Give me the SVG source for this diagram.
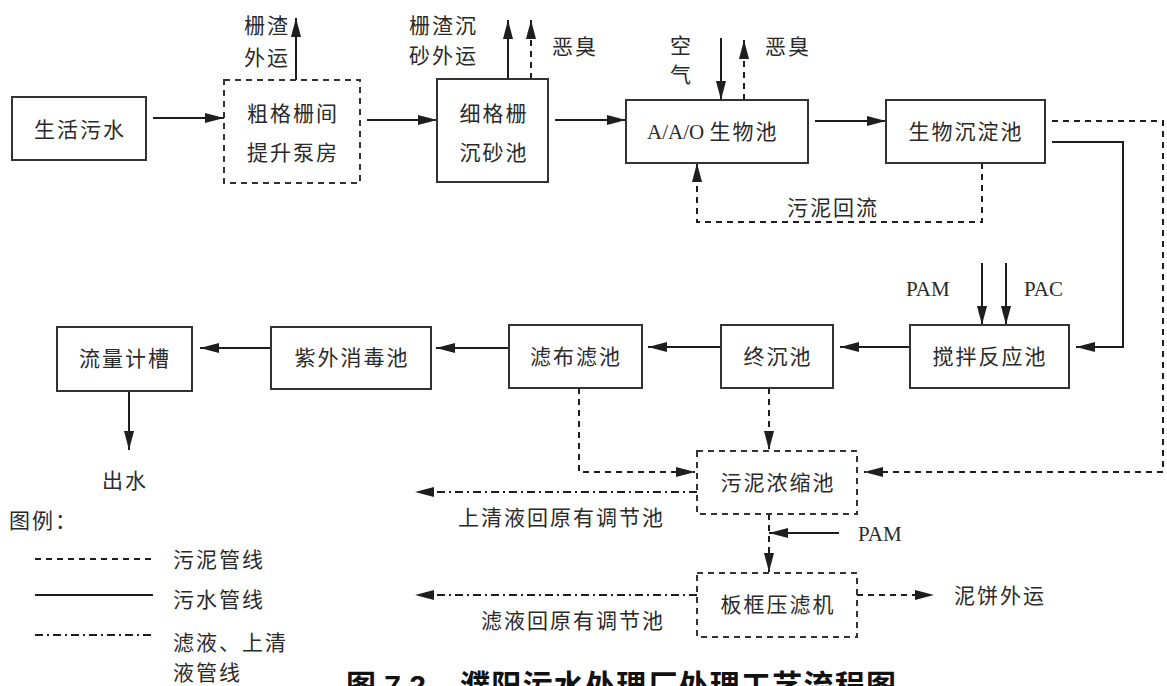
<svg xmlns="http://www.w3.org/2000/svg" width="1167" height="686" viewBox="0 0 1167 686">
<defs>
<marker id="ah" markerUnits="userSpaceOnUse" markerWidth="20" markerHeight="10" refX="19" refY="5" orient="auto">
<path d="M0,0 L19,5 L0,10 z" fill="#1e1e1e"/>
</marker>
</defs>
<style>
.box{fill:#fff;stroke:#333;stroke-width:2}
.dbox{fill:#fff;stroke:#333;stroke-width:2;stroke-dasharray:6 5}
.t{font-family:"Liberation Serif","Noto Sans CJK SC",serif;font-size:21px;fill:#2a2a2a;letter-spacing:2px}
.l{letter-spacing:0}
.tm{text-anchor:middle}
.s{fill:none;stroke:#1e1e1e;stroke-width:2}
.d{fill:none;stroke:#1e1e1e;stroke-width:2;stroke-dasharray:6 5}
.dd{fill:none;stroke:#1e1e1e;stroke-width:2;stroke-dasharray:8 4 2 4}
.cap{font-family:"Liberation Sans","Noto Sans CJK SC",sans-serif;font-size:30px;font-weight:bold;fill:#111}
</style>
<rect width="1167" height="686" fill="#fff"/>

<g id="connectors">
<path class="s" d="M153,118 H224" marker-end="url(#ah)"/>
<path class="s" d="M367,120 H437" marker-end="url(#ah)"/>
<path class="s" d="M296,80 V18" marker-end="url(#ah)"/>
<path class="s" d="M508,79 V20" marker-end="url(#ah)"/>
<path class="d" d="M531,79 V20" marker-end="url(#ah)"/>
<path class="s" d="M555,120 H626" marker-end="url(#ah)"/>
<path class="s" d="M721,38 V100" marker-end="url(#ah)"/>
<path class="d" d="M744,100 V40" marker-end="url(#ah)"/>
<path class="s" d="M815,121 H886" marker-end="url(#ah)"/>
<path class="d" d="M982,163 V222 H697 V163" marker-end="url(#ah)"/>
<path class="d" d="M1052,121 H1163 V472 H864" marker-end="url(#ah)"/>
<path class="s" d="M1052,142 H1123 V347 H1076" marker-end="url(#ah)"/>
<path class="s" d="M982,263 V325" marker-end="url(#ah)"/>
<path class="s" d="M1006,263 V325" marker-end="url(#ah)"/>
<path class="s" d="M910,347 H840" marker-end="url(#ah)"/>
<path class="s" d="M721,347 H648" marker-end="url(#ah)"/>
<path class="s" d="M509,348 H436" marker-end="url(#ah)"/>
<path class="s" d="M271,348 H200" marker-end="url(#ah)"/>
<path class="s" d="M129,391 V450" marker-end="url(#ah)"/>
<path class="d" d="M579,388 V472 H695" marker-end="url(#ah)"/>
<path class="d" d="M769,388 V450" marker-end="url(#ah)"/>
<path class="dd" d="M697,492 H415" marker-end="url(#ah)"/>
<path class="d" d="M769,514 V572" marker-end="url(#ah)"/>
<path class="s" d="M839,533 H769" marker-end="url(#ah)"/>
<path class="dd" d="M697,595 H415" marker-end="url(#ah)"/>
<path class="d" d="M857,595 H934" marker-end="url(#ah)"/>
</g>

<g id="n-shenghuo"><rect class="box" x="12" y="97" width="134" height="63"/><text class="t tm" x="80" y="137">生活污水</text></g>
<g id="n-cugeshan"><rect class="dbox" x="224" y="80" width="136" height="103"/><text class="t tm" x="293" y="121">粗格栅间</text><text class="t tm" x="293" y="160">提升泵房</text></g>
<g id="n-xigeshan"><rect class="box" x="437" y="79" width="111" height="103"/><text class="t tm" x="494" y="121">细格栅</text><text class="t tm" x="494" y="160">沉砂池</text></g>
<g id="n-aao"><rect class="box" x="626" y="100" width="182" height="63"/><text class="t" x="647" y="139"><tspan class="l">A/A/O </tspan>生物池</text></g>
<g id="n-swcd"><rect class="box" x="886" y="100" width="159" height="63"/><text class="t tm" x="966" y="139">生物沉淀池</text></g>
<g id="n-jiaoban"><rect class="box" x="910" y="325" width="159" height="63"/><text class="t tm" x="990" y="364">搅拌反应池</text></g>
<g id="n-zhongchen"><rect class="box" x="721" y="325" width="112" height="63"/><text class="t tm" x="778" y="364">终沉池</text></g>
<g id="n-lvbu"><rect class="box" x="509" y="325" width="133" height="63"/><text class="t tm" x="576" y="364">滤布滤池</text></g>
<g id="n-ziwai"><rect class="box" x="271" y="327" width="160" height="62"/><text class="t tm" x="352" y="365">紫外消毒池</text></g>
<g id="n-liuliang"><rect class="box" x="57" y="327" width="135" height="64"/><text class="t tm" x="125" y="366">流量计槽</text></g>
<g id="n-nongsuo"><rect class="dbox" x="697" y="451" width="160" height="63"/><text class="t tm" x="778" y="490">污泥浓缩池</text></g>
<g id="n-bankuang"><rect class="dbox" x="697" y="573" width="160" height="64"/><text class="t tm" x="778" y="612">板框压滤机</text></g>

<g id="labels">
<text class="t" x="244" y="33">栅渣</text>
<text class="t" x="244" y="65">外运</text>
<text class="t" x="409" y="33">栅渣沉</text>
<text class="t" x="409" y="63">砂外运</text>
<text class="t" x="552" y="54">恶臭</text>
<text class="t" x="670" y="53">空</text>
<text class="t" x="670" y="82">气</text>
<text class="t" x="765" y="54">恶臭</text>
<text class="t" x="787" y="215">污泥回流</text>
<text class="t l" x="906" y="296">PAM</text>
<text class="t l" x="1024" y="296">PAC</text>
<text class="t tm" x="125" y="488">出水</text>
<text class="t" x="458" y="525">上清液回原有调节池</text>
<text class="t l" x="858" y="541">PAM</text>
<text class="t" x="481" y="628">滤液回原有调节池</text>
<text class="t" x="954" y="603">泥饼外运</text>
</g>

<g id="legend">
<text class="t" x="9" y="528">图例：</text>
<path class="d" d="M35,559 H153"/>
<text class="t" x="173" y="567">污泥管线</text>
<path class="s" d="M35,595 H153"/>
<text class="t" x="173" y="607">污水管线</text>
<path class="dd" d="M35,635 H153"/>
<text class="t" x="173" y="650">滤液、上清</text>
<text class="t" x="173" y="680">液管线</text>
</g>

<g id="caption">
<text class="cap" x="346" y="696">图 7.2</text>
<text class="cap" x="460" y="696" textLength="436" lengthAdjust="spacing">濮阳污水处理厂处理工艺流程图</text>
</g>
</svg>
